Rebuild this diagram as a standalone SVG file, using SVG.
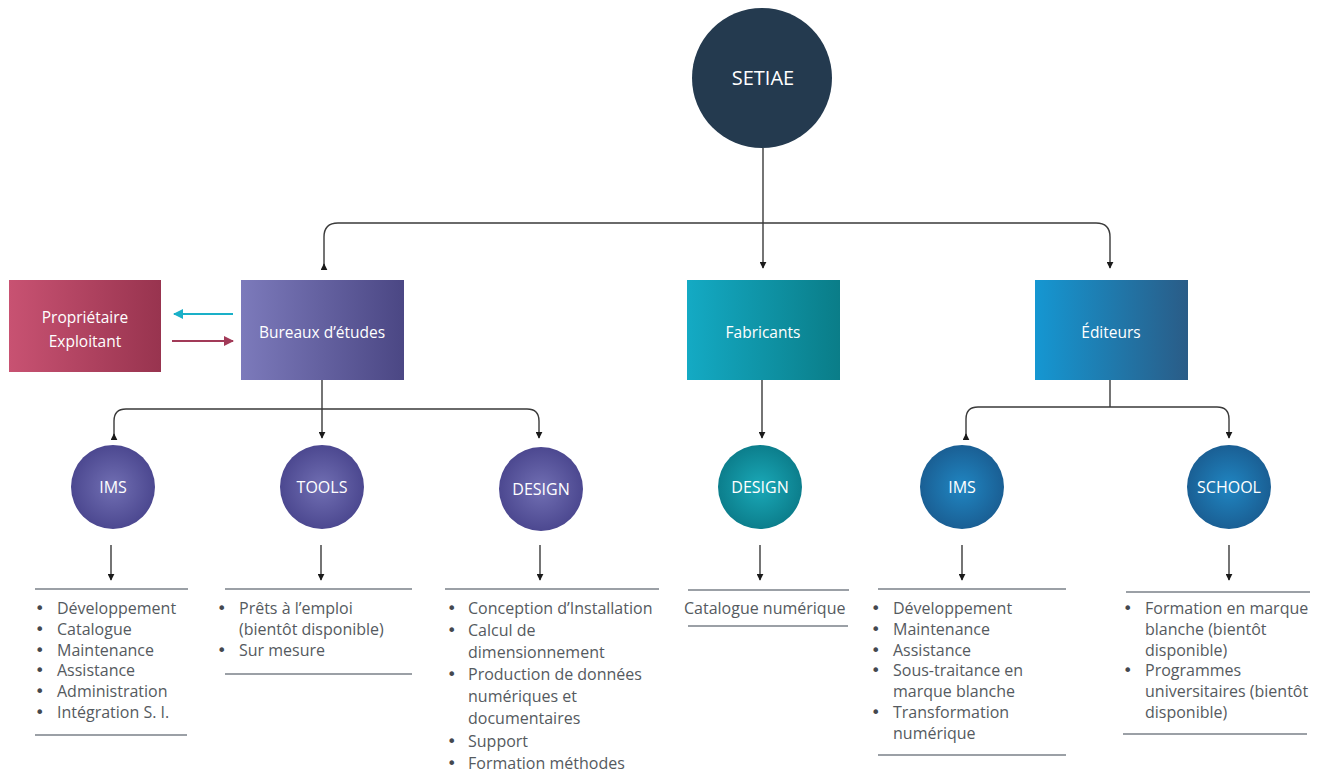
<svg xmlns="http://www.w3.org/2000/svg" width="1325" height="783" viewBox="0 0 1325 783">
<style>
.lbl{font-family:"Open Sans",Lato,"Liberation Sans",sans-serif;fill:#ffffff;text-anchor:middle}
.lst{font-family:"Open Sans",Lato,"Liberation Sans",sans-serif;fill:#555a60;font-size:16px}
.lst .b{font-family:"DejaVu Sans",sans-serif;font-size:16px;fill:#44484e}
.conn{fill:none;stroke:#3a3a3a;stroke-width:1.4}
.rule{stroke:#7a8088;stroke-width:1.6}
</style>
<defs>
<marker id="ah" viewBox="0 0 10 10" refX="9" refY="5" markerWidth="7" markerHeight="7" orient="auto" markerUnits="userSpaceOnUse">
<path d="M0,0 L10,5 L0,10 z" fill="#1a1a1a"/>
</marker>
<marker id="ahc" viewBox="0 0 10 10" refX="9" refY="5" markerWidth="10" markerHeight="10" orient="auto" markerUnits="userSpaceOnUse">
<path d="M0,0 L10,5 L0,10 z" fill="#1ab0c8"/>
</marker>
<marker id="ahm" viewBox="0 0 10 10" refX="9" refY="5" markerWidth="10" markerHeight="10" orient="auto" markerUnits="userSpaceOnUse">
<path d="M0,0 L10,5 L0,10 z" fill="#a23a58"/>
</marker>
<linearGradient id="gProp" x1="0" x2="1" y1="0" y2="0"><stop offset="0" stop-color="#c85272"/><stop offset="1" stop-color="#98344f"/></linearGradient>
<linearGradient id="gBur" x1="0" x2="1" y1="0" y2="0"><stop offset="0" stop-color="#7c7abb"/><stop offset="1" stop-color="#4b4784"/></linearGradient>
<linearGradient id="gFab" x1="0" x2="1" y1="0" y2="0"><stop offset="0" stop-color="#14aac4"/><stop offset="1" stop-color="#0a7d88"/></linearGradient>
<linearGradient id="gEdi" x1="0" x2="1" y1="0" y2="0"><stop offset="0" stop-color="#1597d2"/><stop offset="1" stop-color="#2a5c87"/></linearGradient>
<radialGradient id="rPur"><stop offset="0" stop-color="#716fb3"/><stop offset="1" stop-color="#4c4890"/></radialGradient>
<radialGradient id="rTeal"><stop offset="0" stop-color="#1aa9b8"/><stop offset="1" stop-color="#0c7e8c"/></radialGradient>
<radialGradient id="rBlue"><stop offset="0" stop-color="#2086c2"/><stop offset="1" stop-color="#1a5f94"/></radialGradient>
</defs>
<rect width="1325" height="783" fill="#ffffff"/>

<g id="connectors">
<path class="conn" d="M763,148 V268" marker-end="url(#ah)"/>
<path class="conn" d="M324,268 V237 Q324,223 338,223 H1096 Q1110,223 1110,237 V268" marker-end="url(#ah)"/>
<path class="conn" d="M324,268 V264" marker-end="url(#ah)"/>
<path class="conn" d="M322,380 V438" marker-end="url(#ah)"/>
<path class="conn" d="M114,438 V421 Q114,409 126,409 H527 Q539,409 539,421 V438" marker-end="url(#ah)"/>
<path class="conn" d="M114,438 V434" marker-end="url(#ah)"/>
<path class="conn" d="M762,380 V438" marker-end="url(#ah)"/>
<path class="conn" d="M1110,380 V407"/>
<path class="conn" d="M966,438 V419 Q966,407 978,407 H1217 Q1229,407 1229,419 V438" marker-end="url(#ah)"/>
<path class="conn" d="M966,438 V434" marker-end="url(#ah)"/>
<path d="M233,314 H174" stroke="#1ab0c8" stroke-width="2.2" fill="none" marker-end="url(#ahc)"/>
<path d="M172,341 H233" stroke="#a23a58" stroke-width="2.2" fill="none" marker-end="url(#ahm)"/>
<path class="conn" d="M111,545 V580" marker-end="url(#ah)"/>
<path class="conn" d="M321,545 V580" marker-end="url(#ah)"/>
<path class="conn" d="M540,545 V580" marker-end="url(#ah)"/>
<path class="conn" d="M760,545 V580" marker-end="url(#ah)"/>
<path class="conn" d="M962,545 V580" marker-end="url(#ah)"/>
<path class="conn" d="M1229,545 V580" marker-end="url(#ah)"/>
</g>

<g id="setiae">
<circle cx="762" cy="78" r="70" fill="#243a4f"/>
<text class="lbl" x="763" y="85" font-size="20">SETIAE</text>
</g>

<g id="proprietaire">
<rect x="9" y="280" width="152" height="92" fill="url(#gProp)"/>
<text class="lbl" x="85" y="323" font-size="15.5">Propriétaire</text>
<text class="lbl" x="85" y="347" font-size="15.5">Exploitant</text>
</g>

<g id="bureaux">
<rect x="241" y="280" width="163" height="100" fill="url(#gBur)"/>
<text class="lbl" x="322" y="338" font-size="15.5">Bureaux d’études</text>
</g>

<g id="fabricants">
<rect x="687" y="280" width="153" height="100" fill="url(#gFab)"/>
<text class="lbl" x="763" y="338" font-size="15.5">Fabricants</text>
</g>

<g id="editeurs">
<rect x="1035" y="280" width="153" height="100" fill="url(#gEdi)"/>
<text class="lbl" x="1111" y="338" font-size="15.5">Éditeurs</text>
</g>

<g id="ims-bureaux">
<circle cx="113" cy="487" r="42" fill="url(#rPur)"/>
<text class="lbl" x="113" y="493" font-size="16">IMS</text>
</g>
<g id="tools">
<circle cx="322" cy="487" r="42" fill="url(#rPur)"/>
<text class="lbl" x="322" y="493" font-size="16">TOOLS</text>
</g>
<g id="design-bureaux">
<circle cx="541" cy="489" r="42" fill="url(#rPur)"/>
<text class="lbl" x="541" y="495" font-size="16">DESIGN</text>
</g>
<g id="design-fabricants">
<circle cx="760" cy="487" r="42" fill="url(#rTeal)"/>
<text class="lbl" x="760" y="493" font-size="16">DESIGN</text>
</g>
<g id="ims-editeurs">
<circle cx="962" cy="487" r="42" fill="url(#rBlue)"/>
<text class="lbl" x="962" y="493" font-size="16">IMS</text>
</g>
<g id="school">
<circle cx="1229" cy="487" r="42" fill="url(#rBlue)"/>
<text class="lbl" x="1229" y="493" font-size="16">SCHOOL</text>
</g>

<g id="list-ims-bureaux">
<line class="rule" x1="35" y1="589" x2="188" y2="589"/>
<g class="lst">
<text class="b" x="35" y="614">•</text><text x="57" y="614">Développement</text>
<text class="b" x="35" y="635">•</text><text x="57" y="635">Catalogue</text>
<text class="b" x="35" y="656">•</text><text x="57" y="656">Maintenance</text>
<text class="b" x="35" y="676">•</text><text x="57" y="676">Assistance</text>
<text class="b" x="35" y="697">•</text><text x="57" y="697">Administration</text>
<text class="b" x="35" y="718">•</text><text x="57" y="718">Intégration S. I.</text>
</g>
<line class="rule" x1="35" y1="735" x2="187" y2="735"/>
</g>

<g id="list-tools">
<line class="rule" x1="225" y1="589" x2="412" y2="589"/>
<g class="lst">
<text class="b" x="217" y="614">•</text><text x="239" y="614">Prêts à l’emploi</text>
<text x="239" y="635">(bientôt disponible)</text>
<text class="b" x="217" y="656">•</text><text x="239" y="656">Sur mesure</text>
</g>
<line class="rule" x1="225" y1="674" x2="412" y2="674"/>
</g>

<g id="list-design-bureaux">
<line class="rule" x1="445" y1="589" x2="659" y2="589"/>
<g class="lst">
<text class="b" x="447" y="614">•</text><text x="468" y="614">Conception d’Installation</text>
<text class="b" x="447" y="636">•</text><text x="468" y="636">Calcul de</text>
<text x="468" y="658">dimensionnement</text>
<text class="b" x="447" y="680">•</text><text x="468" y="680">Production de données</text>
<text x="468" y="702">numériques et</text>
<text x="468" y="724">documentaires</text>
<text class="b" x="447" y="747">•</text><text x="468" y="747">Support</text>
<text class="b" x="447" y="769">•</text><text x="468" y="769">Formation méthodes</text>
</g>
</g>

<g id="list-design-fabricants">
<line class="rule" x1="688" y1="590" x2="849" y2="590"/>
<text class="lst" x="684" y="614">Catalogue numérique</text>
<line class="rule" x1="688" y1="626" x2="848" y2="626"/>
</g>

<g id="list-ims-editeurs">
<line class="rule" x1="878" y1="589" x2="1066" y2="589"/>
<g class="lst">
<text class="b" x="871" y="614">•</text><text x="893" y="614">Développement</text>
<text class="b" x="871" y="635">•</text><text x="893" y="635">Maintenance</text>
<text class="b" x="871" y="656">•</text><text x="893" y="656">Assistance</text>
<text class="b" x="871" y="676">•</text><text x="893" y="676">Sous-traitance en</text>
<text x="893" y="697">marque blanche</text>
<text class="b" x="871" y="718">•</text><text x="893" y="718">Transformation</text>
<text x="893" y="739">numérique</text>
</g>
<line class="rule" x1="878" y1="755" x2="1066" y2="755"/>
</g>

<g id="list-school">
<line class="rule" x1="1126" y1="592" x2="1310" y2="592"/>
<g class="lst">
<text class="b" x="1123" y="614">•</text><text x="1145" y="614">Formation en marque</text>
<text x="1145" y="635">blanche (bientôt</text>
<text x="1145" y="656">disponible)</text>
<text class="b" x="1123" y="676">•</text><text x="1145" y="676">Programmes</text>
<text x="1145" y="697">universitaires (bientôt</text>
<text x="1145" y="718">disponible)</text>
</g>
<line class="rule" x1="1123" y1="734" x2="1307" y2="734"/>
</g>
</svg>
